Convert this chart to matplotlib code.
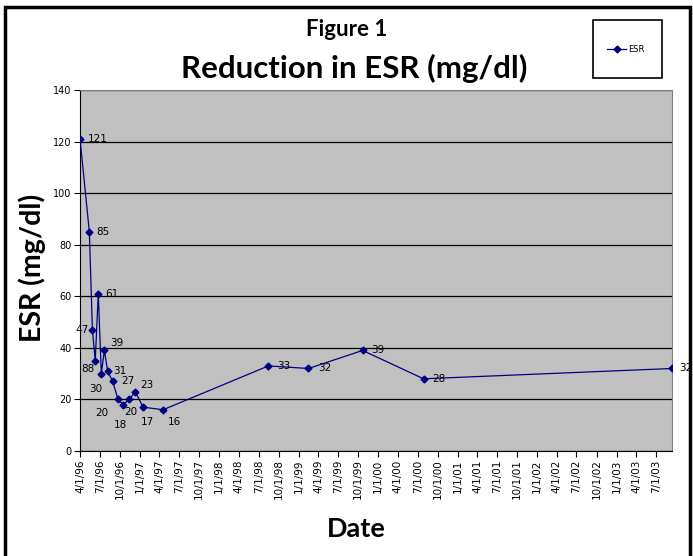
import matplotlib
matplotlib.use("Agg")
import matplotlib.pyplot as plt
import matplotlib.dates as mdates
from matplotlib.patches import Rectangle
from matplotlib.lines import Line2D
import numpy as np
import pandas as pd

# Data
dates = ["1996-04-01", "1996-05-14", "1996-05-28", "1996-06-10", "1996-06-24",
         "1996-07-08", "1996-07-22", "1996-08-06", "1996-08-29", "1996-09-23",
         "1996-10-16", "1996-11-14", "1996-12-11", "1997-01-16", "1997-04-18",
         "1998-08-15", "1999-02-15", "1999-10-22", "2000-07-28", "2003-09-13"]
esr = [121, 85, 47, 35, 61, 30, 39, 31, 27, 20, 18, 20, 23, 17, 16, 33, 32, 39, 28, 32]
point_labels = ["121", "85", "47", "88", "61", "30", "39", "31", "27", "20",
                "18", "20", "23", "17", "16", "33", "32", "39", "28", "32"]

# label placement (pixel offsets from each point, as in the reference)
label_offsets = [(18, 0), (14, 0), (-10, 0), (-7, -8), (14, 0), (-6, -15), (12, 7),
                 (12, 0), (15, 0), (-16, -14), (-3, -20), (1, -13), (12, 7), (4, -15),
                 (11, -12), (15, 0), (16, 0), (15, 0), (15, 0), (14, 0)]

x = pd.to_datetime(dates)
W, H = 693, 556

fig = plt.figure(figsize=(W / 100, H / 100), dpi=100)
fig.patch.set_facecolor("white")

ax = fig.add_axes([80 / W, 1 - 451 / H, (672 - 80) / W, (451 - 90) / H])
ax.set_facecolor("#C0C0C0")

ax.plot(x, esr, color="#000080", lw=0.9, marker="D", ms=3.5, zorder=3)
for xi, yi, lab, (dx, dy) in zip(x, esr, point_labels, label_offsets):
    ax.annotate(lab, (xi, yi), xytext=(dx, dy), textcoords="offset pixels",
                ha="center", va="center", fontsize=7.5, color="black",
                annotation_clip=False, zorder=4)

ax.set_xlim(x[0], x[-1])
ax.set_ylim(0, 140)
ax.set_yticks(np.arange(0, 141, 20))
ax.yaxis.grid(True, color="black", lw=0.9)
ax.set_axisbelow(True)

ax.xaxis.set_major_locator(mdates.MonthLocator(bymonth=[1, 4, 7, 10]))
ax.xaxis.set_major_formatter(
    matplotlib.ticker.FuncFormatter(
        lambda v, p: "{d.month}/{d.day}/{y}".format(d=mdates.num2date(v), y=mdates.num2date(v).strftime("%y"))))
ax.tick_params(axis="x", labelrotation=90, labelsize=7.5, length=4, direction="out", pad=2)
ax.tick_params(axis="y", labelsize=7, length=4, direction="out", pad=2)

for s in ["top", "right"]:
    ax.spines[s].set_color("#808080")
for s in ["left", "bottom"]:
    ax.spines[s].set_color("black")

fig.text(356 / W, 1 - 529 / H, "Date", ha="center", va="center",
         fontsize=19.5, fontweight="bold", family="Lato")
fig.text(32 / W, 1 - 268 / H, "ESR (mg/dl)", ha="center", va="center", rotation=90,
         fontsize=20.5, fontweight="bold", family="Lato")

fig.text(347 / W, 1 - 29 / H, "Figure 1", ha="center", va="center",
         fontsize=16, fontweight="bold", family="Lato")
fig.text(354 / W, 1 - 68 / H, "Reduction in ESR (mg/dl)", ha="center", va="center",
         fontsize=22.5, fontweight="bold", family="Lato")

# legend box
fig.add_artist(Rectangle((593 / W, 1 - 78 / H), 69 / W, 58 / H, transform=fig.transFigure,
                         facecolor="white", edgecolor="black", lw=1.2))
handle = Line2D([], [], color="#000080", lw=0.9, marker="D", ms=3.5)
fig.legend([handle], ["ESR"], loc="center", bbox_to_anchor=(626 / W, 1 - 49 / H),
           frameon=False, fontsize=6, handlelength=2.2, handletextpad=0.3)

# outer chart border
fig.add_artist(Rectangle((5 / W, -0.05), 685 / W, 1.05 - 7 / H, transform=fig.transFigure,
                         facecolor="none", edgecolor="black", lw=2.5, zorder=10))

fig.savefig("out.png", dpi=100)
